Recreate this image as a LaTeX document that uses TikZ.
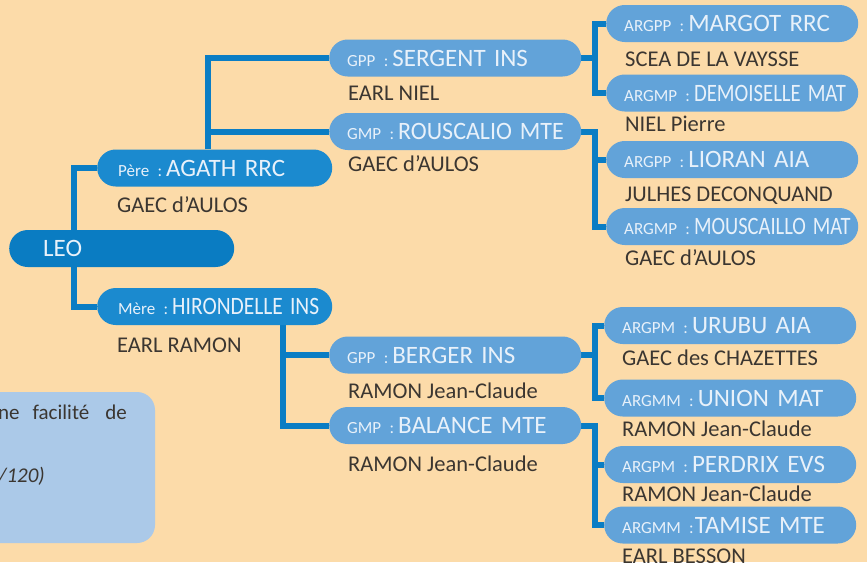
\documentclass[tikz,border=0pt]{standalone}
\usepackage{fontspec}
\usepackage{graphicx}
\setmainfont{Carlito}
\usetikzlibrary{positioning,backgrounds}
\definecolor{fond}{HTML}{FCDBA9}
\definecolor{fonce}{HTML}{0A7CC2}
\definecolor{moyen}{HTML}{1B8ACF}
\definecolor{clair}{HTML}{62A3D9}
\definecolor{encart}{HTML}{ABC9E8}
\definecolor{lien}{HTML}{0A7DC4}
\definecolor{pilltxt}{HTML}{E8F1FA}
\definecolor{subtxt}{HTML}{3B3631}
\tikzset{
pill/.style={
  rounded corners=18.5pt,
  minimum height=37pt,
  text height=16pt,
  text depth=0pt,
  inner xsep=18pt,
  inner ysep=0pt,
  text width=#1,
  align=left,
  anchor=west,
  text=pilltxt,
  font=\fontsize{25}{25}\selectfont
  },
pillg/.style={
  pill=216pt,
  fill=clair
  },
sub/.style={
  anchor=base west,
  inner sep=0pt,
  text=subtxt,
  font=\fontsize{22.5}{22.5}\selectfont
  },
link/.style={draw=lien, line width=6pt}
}
\newcommand{\pre}[1]{{\fontsize{17}{17}\selectfont #1 :}\hspace{4pt}}
\newcommand{\sq}[2]{\scalebox{#1}[1]{#2}}

\begin{document}
\begin{tikzpicture}[x=1pt,y=-1pt]
            \clip (0,0) rectangle (867,562);
            % arbre
            \node[pill=157pt,inner xsep=34pt,fill=fonce] (leo) at (9,248.5) {LEO};
            \node[pill=193pt,inner xsep=21pt,fill=moyen] (pere) at (97,168) {\mbox{\pre{Père}AGATH RRC}};
            \node[pill=193pt,inner xsep=21pt,fill=moyen] (mere) at (97,306.5) {\mbox{\pre{Mère}\sq{0.86}{HIRONDELLE INS}}};
            \node[pillg] (gpp1) at (329,58) {\mbox{\pre{GPP}SERGENT INS}};
            \node[pillg] (gmp1) at (329,131.5) {\mbox{\pre{GMP}\sq{0.96}{ROUSCALIO MTE}}};
            \node[pillg] (gpp2) at (329,355) {\mbox{\pre{GPP}BERGER INS}};
            \node[pillg] (gmp2) at (329,425.5) {\mbox{\pre{GMP}BALANCE MTE}};
            \node[pillg] (a1) at (606,23.5) {\mbox{\pre{ARGPP}MARGOT RRC}};
            \node[pillg] (a2) at (606,93) {\mbox{\pre{ARGMP}\sq{0.83}{DEMOISELLE MAT}}};
            \node[pillg] (a3) at (606,159.5) {\mbox{\pre{ARGPP}LIORAN AIA}};
            \node[pillg] (a4) at (606,226.5) {\mbox{\pre{ARGMP}\sq{0.82}{MOUSCAILLO MAT}}};
            \node[pillg] (a5) at (604,325.5) {\mbox{\pre{ARGPM}URUBU AIA}};
            \node[pillg] (a6) at (604,398) {\mbox{\pre{ARGMM}UNION MAT}};
            \node[pillg] (a7) at (604,464.5) {\mbox{\pre{ARGPM}PERDRIX EVS}};
            \node[pillg] (a8) at (604,525) {\mbox{\pre{ARGMM}\hspace{-3pt}TAMISE MTE}};
            % eleveurs
            \node[sub] (t-pere) at (117,212) {GAEC d'AULOS};
            \node[sub] (t-mere) at (117,352) {EARL RAMON};
            \node[sub] (t-gpp1) at (348,100) {EARL NIEL};
            \node[sub] (t-gmp1) at (348,171) {GAEC d'AULOS};
            \node[sub] (t-gpp2) at (348,398) {RAMON Jean-Claude};
            \node[sub] (t-gmp2) at (348,471) {RAMON Jean-Claude};
            \node[sub] (t-a1) at (625,66) {SCEA DE LA VAYSSE};
            \node[sub] (t-a2) at (625,131) {NIEL Pierre};
            \node[sub] (t-a3) at (625,201) {JULHES DECONQUAND};
            \node[sub] (t-a4) at (625,265) {GAEC d'AULOS};
            \node[sub] (t-a5) at (622,365) {GAEC des CHAZETTES};
            \node[sub] (t-a6) at (622,436) {RAMON Jean-Claude};
            \node[sub] (t-a7) at (622,501) {RAMON Jean-Claude};
            \node[sub] (t-a8) at (622,563) {EARL BESSON};
            % encart
            \node[sub,anchor=base east,font=\fontsize{21}{21}\selectfont] (note1) at (127,419) {ne\hspace{13pt}facilité\hspace{16pt}de};
            \node[sub,anchor=base east,font=\fontsize{21}{21}\selectfont\itshape] (note2) at (45,482) {/120)};
            \coordinate (lj) at ([xshift=65pt]leo.west);
            \coordinate (pj) at ([xshift=111pt]pere.north west);
            \coordinate (mj) at ([xshift=186pt]mere.south west);
            \coordinate (r1) at ([xshift=14pt]gpp1.east);
            \coordinate (r2) at ([xshift=14pt]gmp1.east);
            \coordinate (r3) at ([xshift=14pt]gpp2.east);
            \coordinate (r4) at ([xshift=14pt]gmp2.east);
            \begin{pgfonlayer}{background}
                \fill[fond] (0,0) rectangle (867,562);
                \fill[encart,rounded corners=18pt] (-40,392) rectangle (155,543);
                \draw[link] (pere.west) -| (lj) |- (mere.west);
                \draw[link] (pj) |- (gpp1.west);
                \draw[link] (gmp1.west) -- (gmp1.west -| pj);
                \draw[link] (mj) |- (gmp2.west);
                \draw[link] (gpp2.west) -- (gpp2.west -| mj);
                \draw[link] (gpp1.east) -- (r1);
                \draw[link] (a1.west) -| (r1) |- (a2.west);
                \draw[link] (gmp1.east) -- (r2) |- (a4.west);
                \draw[link] (a3.west) -- (a3.west -| r2);
                \draw[link] (gpp2.east) -- (r3);
                \draw[link] (a5.west) -| (r3) |- (a6.west);
                \draw[link] (gmp2.east) -- (r4) |- (a8.west);
                \draw[link] (a7.west) -- (a7.west -| r4);
            \end{pgfonlayer}
        \end{tikzpicture}
\end{document}
